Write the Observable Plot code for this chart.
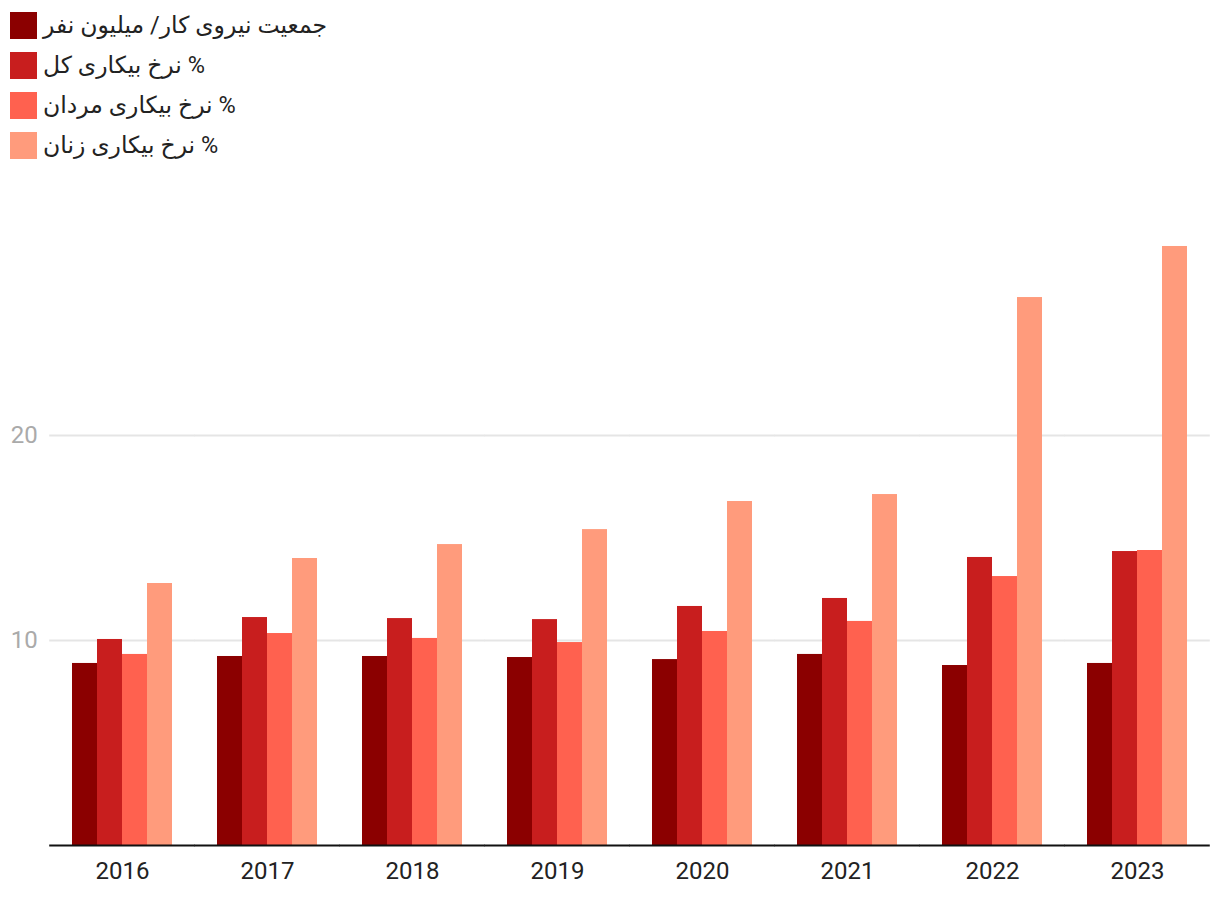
<!DOCTYPE html>
<html>
<head>
<meta charset="utf-8">
<script src="https://cdn.jsdelivr.net/npm/d3@7"></script>
<script src="https://cdn.jsdelivr.net/npm/@observablehq/plot@0.6"></script>
<style>
  body { margin: 0; background: #fff; font-family: Roboto, "DejaVu Sans", sans-serif; }
  #legend { height: 170px; box-sizing: border-box; padding: 12px 0 0 10px; }
  .row { display: flex; align-items: center; margin-top: 13px; height: 27px; }
  .row:first-child { margin-top: 0; }
  .sw { width: 27px; height: 27px; margin-right: 6px; flex: none; }
  .lab { font-size: 23.5px; color: #222; line-height: 27px; }
</style>
</head>
<body>
<div id="legend"></div>
<div id="chart"></div>
<script>
const years = ["2016", "2017", "2018", "2019", "2020", "2021", "2022", "2023"];
const seriesNames = ["جمعیت نیروی کار/ میلیون نفر", "% نرخ بیکاری کل", "% نرخ بیکاری مردان", "% نرخ بیکاری زنان"];
const laborForce = [8.88, 9.22, 9.22, 9.17, 9.07, 9.32, 8.78, 8.88];
const totalRate = [10.05, 11.12, 11.07, 11.02, 11.66, 12.05, 14.05, 14.34];
const menRate = [9.32, 10.34, 10.1, 9.9, 10.44, 10.93, 13.12, 14.39];
const womenRate = [12.78, 14.0, 14.68, 15.41, 16.78, 17.12, 26.73, 29.22];
const colors = ["#8b0000", "#c81e1e", "#ff614f", "#ff9b7c"];
const yTicks = [10, 20];

const seriesValues = [laborForce, totalRate, menRate, womenRate];
const data = years.flatMap((yr, i) => seriesValues.map((arr, j) => ({year: yr, series: seriesNames[j], value: arr[i]})));

// legend
const legend = document.getElementById("legend");
seriesNames.forEach((name, j) => {
  const row = document.createElement("div");
  row.className = "row";
  const sw = document.createElement("div");
  sw.className = "sw";
  sw.style.background = colors[j];
  const lab = document.createElement("span");
  lab.className = "lab";
  lab.dir = "rtl";
  lab.textContent = name;
  row.appendChild(sw);
  row.appendChild(lab);
  legend.appendChild(row);
});

const W = 1220, ML = 48, MR = 10, PAD = 0.3;
const step = (W - ML - MR) / years.length;
const half = step * PAD / 2; // half gap between facet groups

const chart = Plot.plot({
  width: W,
  height: 732,
  marginLeft: ML,
  marginRight: MR,
  marginTop: 60,
  marginBottom: 57,
  style: {fontFamily: "Roboto, sans-serif", fontSize: "24px", background: "#fff"},
  fx: {domain: years, paddingInner: PAD, paddingOuter: PAD / 2, label: null, axis: null},
  x: {domain: seriesNames, axis: null, padding: 0},
  y: {domain: [0, 30], axis: null},
  color: {domain: seriesNames, range: colors},
  marks: [
    Plot.ruleY(yTicks, {stroke: "#e5e5e5", strokeWidth: 2, insetLeft: -half, insetRight: -half}),
    Plot.axisY(yTicks, {anchor: "left", tickSize: 0, tickPadding: 12 + half, fill: "#aaa", fontSize: 24, label: null}),
    Plot.barY(data, {fx: "year", x: "series", y: "value", fill: "series"}),
    Plot.ruleY([0], {stroke: "#111", strokeWidth: 2, insetLeft: -half, insetRight: -half}),
    Plot.axisFx({anchor: "bottom", tickSize: 0, tickPadding: 16, fill: "#222", fontSize: 24, label: null})
  ]
});
document.getElementById("chart").appendChild(chart);
</script>
</body>
</html>
